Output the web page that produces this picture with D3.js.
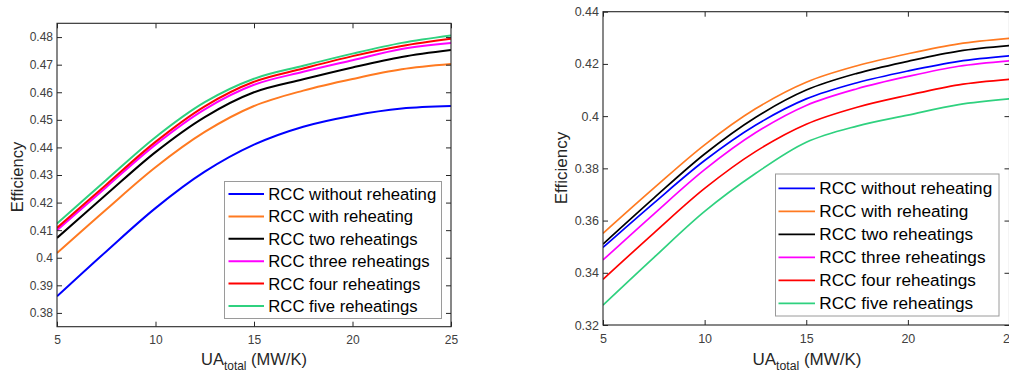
<!DOCTYPE html>
<html>
<head>
<meta charset="utf-8">
<script src="https://cdn.jsdelivr.net/npm/d3@7/dist/d3.min.js"></script>
<style>
  html, body { margin: 0; padding: 0; background: #fff; }
  svg { display: block; font-family: "Liberation Sans", Arial, sans-serif; }
</style>
</head>
<body>
<svg id="chart" width="1009" height="372"></svg>
<script>
// ---------- data ----------
const uaValues = [5, 7.5, 10, 12.5, 15, 17.5, 20, 22.5, 25];

const seriesNames = [
  "RCC without reheating",
  "RCC with reheating",
  "RCC two reheatings",
  "RCC three reheatings",
  "RCC four reheatings",
  "RCC five reheatings"
];
const seriesColors = ["#0000ff", "#ff7a21", "#000000", "#ff00ff", "#ff0000", "#2fd17f"];

// left chart
const leftWithout = [0.3860, 0.4023, 0.4180, 0.4312, 0.4410, 0.4475, 0.4515, 0.4541, 0.4550];
const leftWith    = [0.4017, 0.4175, 0.4328, 0.4456, 0.4550, 0.4606, 0.4648, 0.4683, 0.4702];
const leftTwo     = [0.4072, 0.4229, 0.4383, 0.4510, 0.4600, 0.4647, 0.4690, 0.4728, 0.4753];
const leftThree   = [0.4100, 0.4256, 0.4410, 0.4538, 0.4627, 0.4674, 0.4716, 0.4757, 0.4779];
const leftFour    = [0.4108, 0.4265, 0.4420, 0.4549, 0.4638, 0.4686, 0.4731, 0.4768, 0.4794];
const leftFive    = [0.4124, 0.4282, 0.4437, 0.4564, 0.4649, 0.4696, 0.4740, 0.4779, 0.4806];

// right chart
const rightWithout = [0.3497, 0.3667, 0.3830, 0.3965, 0.4066, 0.4128, 0.4173, 0.4210, 0.4231];
const rightWith    = [0.3551, 0.3724, 0.3890, 0.4028, 0.4130, 0.4193, 0.4239, 0.4277, 0.4298];
const rightTwo     = [0.3510, 0.3686, 0.3855, 0.3995, 0.4100, 0.4164, 0.4210, 0.4249, 0.4270];
const rightThree   = [0.3449, 0.3625, 0.3795, 0.3936, 0.4041, 0.4105, 0.4152, 0.4191, 0.4212];
const rightFour    = [0.3375, 0.3552, 0.3723, 0.3864, 0.3969, 0.4034, 0.4080, 0.4120, 0.4141];
const rightFive    = [0.3276, 0.3458, 0.3635, 0.3780, 0.3900, 0.3962, 0.4004, 0.4044, 0.4066];

const xTicks = [5, 10, 15, 20, 25];
const xTickLabels = ["5", "10", "15", "20", "25"];
const leftYTicks = [0.38, 0.39, 0.40, 0.41, 0.42, 0.43, 0.44, 0.45, 0.46, 0.47, 0.48];
const leftYTickLabels = ["0.38", "0.39", "0.4", "0.41", "0.42", "0.43", "0.44", "0.45", "0.46", "0.47", "0.48"];
const rightYTicks = [0.32, 0.34, 0.36, 0.38, 0.40, 0.42, 0.44];
const rightYTickLabels = ["0.32", "0.34", "0.36", "0.38", "0.4", "0.42", "0.44"];

const yLabel = "Efficiency";
const xLabelMain = "UA";
const xLabelSub = "total";
const xLabelTail = " (MW/K)";

// ---------- drawing ----------
const svg = d3.select("#chart");

function drawPanel(cfg) {
  const x = d3.scaleLinear().domain([5, 25]).range([cfg.left, cfg.right]);
  const y = d3.scaleLinear().domain(cfg.yDomain).range([cfg.bottom, cfg.top]);
  const g = svg.append("g");

  const tick = 5;
  const axisColor = "#262626";
  const labelColor = "#404040";

  // lines
  const line = d3.line().x((d, i) => x(uaValues[i])).y(d => y(d)).curve(d3.curveCatmullRom.alpha(0.5));
  const clipId = "clip" + cfg.id;
  svg.append("clipPath").attr("id", clipId).append("rect")
    .attr("x", cfg.left).attr("y", cfg.top - 2)
    .attr("width", cfg.right - cfg.left).attr("height", cfg.bottom - cfg.top + 2);
  cfg.series.forEach((s, i) => {
    g.append("path").attr("d", line(s)).attr("fill", "none")
      .attr("stroke", seriesColors[i]).attr("stroke-width", cfg.lineWidth)
      .attr("clip-path", `url(#${clipId})`);
  });

  // axes
  const fmtX = (d) => xTickLabels[xTicks.indexOf(d)];
  const fmtY = (d) => cfg.yLabels[cfg.yTicks.indexOf(d)];

  const ax = g.append("g").attr("transform", `translate(0,${cfg.bottom})`)
    .call(d3.axisBottom(x).tickValues(xTicks).tickFormat(fmtX).tickSize(-tick).tickPadding(9));
  const axT = g.append("g").attr("transform", `translate(0,${cfg.top})`)
    .call(d3.axisTop(x).tickValues(xTicks).tickFormat("").tickSize(-tick));
  const ay = g.append("g").attr("transform", `translate(${cfg.left},0)`)
    .call(d3.axisLeft(y).tickValues(cfg.yTicks).tickFormat(fmtY).tickSize(-tick).tickPadding(4));
  const ayR = g.append("g").attr("transform", `translate(${cfg.right},0)`)
    .call(d3.axisRight(y).tickValues(cfg.yTicks).tickFormat("").tickSize(-tick));

  [ax, axT, ay, ayR].forEach(a => {
    a.select(".domain").remove();
    a.selectAll(".tick line").attr("stroke", axisColor).attr("stroke-width", 1);
    a.selectAll(".tick text").attr("fill", labelColor)
      .attr("font-size", cfg.tickFont).attr("font-family", "Liberation Sans, Arial, sans-serif");
  });

  // frame
  g.append("rect").attr("x", cfg.left).attr("y", cfg.top)
    .attr("width", cfg.right - cfg.left).attr("height", cfg.bottom - cfg.top)
    .attr("fill", "none").attr("stroke", axisColor).attr("stroke-width", 1.1);

  // y label
  g.append("text")
    .attr("transform", `translate(${cfg.yLabelX},${cfg.yLabelY}) rotate(-90)`)
    .attr("text-anchor", "middle").attr("font-size", cfg.labelFont)
    .attr("fill", "#262626").text(yLabel);

  // x label
  const xl = g.append("text").attr("x", cfg.xLabelX).attr("y", cfg.xLabelY)
    .attr("text-anchor", "middle").attr("font-size", cfg.labelFont).attr("fill", "#262626");
  xl.append("tspan").text(xLabelMain);
  xl.append("tspan").attr("dy", 5).attr("font-size", cfg.labelFont * 0.72).text(xLabelSub);
  xl.append("tspan").attr("dy", -5).text(xLabelTail);

  // legend
  const L = cfg.legend;
  g.append("rect").attr("x", L.x).attr("y", L.y).attr("width", L.w).attr("height", L.h)
    .attr("fill", "#fff").attr("stroke", "#9a9a9a").attr("stroke-width", 1);
  seriesNames.forEach((name, i) => {
    const cy = L.firstRow + i * L.step;
    g.append("line").attr("x1", L.lineX1).attr("x2", L.lineX2).attr("y1", cy).attr("y2", cy)
      .attr("stroke", seriesColors[i]).attr("stroke-width", cfg.lineWidth);
    g.append("text").attr("x", L.textX).attr("y", cy + L.font * 0.36)
      .attr("font-size", L.font).attr("fill", "#000").text(name);
  });
}

drawPanel({
  id: "L",
  left: 57, right: 451, top: 23.3, bottom: 326.7,
  yDomain: [0.375, 0.485],
  yTicks: leftYTicks, yLabels: leftYTickLabels,
  series: [leftWithout, leftWith, leftTwo, leftThree, leftFour, leftFive],
  lineWidth: 2,
  tickFont: 12,
  labelFont: 16.5,
  yLabelX: 22.5, yLabelY: 177,
  xLabelX: 254, xLabelY: 365,
  legend: { x: 224.5, y: 181.5, w: 217, h: 137, firstRow: 194, step: 22.4,
            lineX1: 228.5, lineX2: 264, textX: 268.3, font: 16.7 }
});

drawPanel({
  id: "R",
  left: 603, right: 1009.5, top: 11.7, bottom: 325,
  yDomain: [0.32, 0.44],
  yTicks: rightYTicks, yLabels: rightYTickLabels,
  series: [rightWithout, rightWith, rightTwo, rightThree, rightFour, rightFive],
  lineWidth: 1.7,
  tickFont: 12.5,
  labelFont: 17,
  yLabelX: 567, yLabelY: 168,
  xLabelX: 807, xLabelY: 365,
  legend: { x: 775.5, y: 174, w: 223.5, h: 142, firstRow: 188.3, step: 23,
            lineX1: 778.5, lineX2: 815, textX: 819.3, font: 17.2 }
});
</script>
</body>
</html>
